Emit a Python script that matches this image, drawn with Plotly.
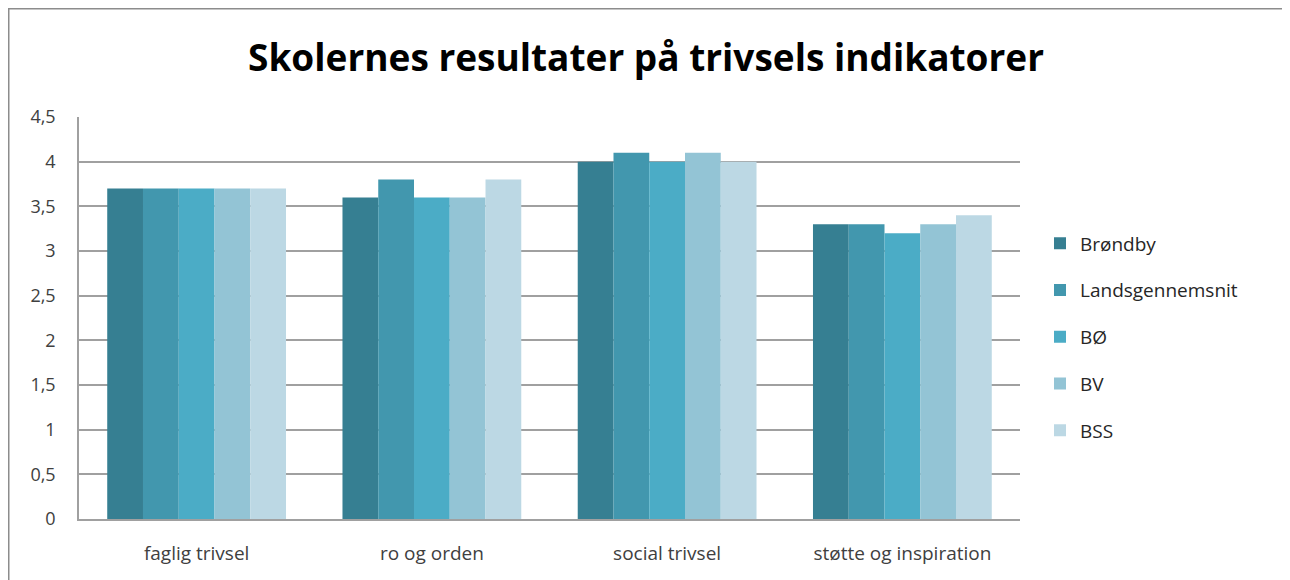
import plotly.graph_objects as go

categories = ["faglig trivsel", "ro og orden", "social trivsel", "støtte og inspiration"]
series_names = ["Brøndby", "Landsgennemsnit", "BØ", "BV", "BSS"]
brondby = [3.7, 3.6, 4.0, 3.3]
landsgennemsnit = [3.7, 3.8, 4.1, 3.3]
bo = [3.7, 3.6, 4.0, 3.2]
bv = [3.7, 3.6, 4.1, 3.3]
bss = [3.7, 3.8, 4.0, 3.4]
series_values = [brondby, landsgennemsnit, bo, bv, bss]
colors = ["#367F92", "#4297AE", "#4BACC6", "#93C4D5", "#BCD8E4"]
tick_vals = [0, 0.5, 1, 1.5, 2, 2.5, 3, 3.5, 4, 4.5]
tick_text = ["0", "0,5", "1", "1,5", "2", "2,5", "3", "3,5", "4", "4,5"]

# figure is placed 8px in from the page edge by the browser body margin
W, H = 1282, 572
L, R, T, B = 71, 1012, 109, 511
FONT = "Open Sans, Lato, sans-serif"

fig = go.Figure()
for i, (name, vals) in enumerate(zip(series_names, series_values)):
    fig.add_trace(go.Bar(x=categories, y=vals, name=name, marker_color=colors[i],
                         marker_line_width=0, legendgroup=name))

def px_x(p):
    return (p - L) / (R - L)

def px_y(p):
    return (B - p) / (B - T)

fig.update_layout(
    width=W, height=H,
    margin=dict(l=L, r=W - R, t=T, b=H - B),
    paper_bgcolor="white", plot_bgcolor="white",
    barmode="group", bargap=0.24, bargroupgap=0,
    font=dict(family=FONT, color="#404040", size=17),
    title=dict(text="<b>Skolernes resultater på trivsels indikatorer</b>",
               x=638 / W, xref="container", xanchor="center",
               y=1 - 50 / H, yref="container", yanchor="middle",
               font=dict(size=37, color="black", family=FONT)),
    legend=dict(x=px_x(1032), xanchor="left", y=px_y(329), yanchor="middle",
                traceorder="grouped", tracegroupgap=19,
                font=dict(size=19, color="#262626", family=FONT), itemwidth=30),
    showlegend=True,
    shapes=[dict(type="rect", xref="paper", yref="paper",
                 x0=px_x(0.75), x1=px_x(1281), y0=px_y(620), y1=px_y(0.75),
                 line=dict(color="#8C8C8C", width=1.5), layer="below")],
)
fig.update_xaxes(showline=True, linecolor="#A0A0A0", linewidth=1.5, showgrid=False,
                 ticks="", ticklabelstandoff=16,
                 tickfont=dict(size=19, color="#404040", family=FONT))
fig.update_yaxes(range=[0, 4.5], tickvals=tick_vals, ticktext=tick_text,
                 showline=True, linecolor="#A0A0A0", linewidth=1.5,
                 showgrid=True, gridcolor="#A0A0A0", gridwidth=1.5,
                 zeroline=False, ticks="", ticklabelstandoff=18,
                 tickfont=dict(size=18, color="#404040", family=FONT))

fig.write_html("out.html")
